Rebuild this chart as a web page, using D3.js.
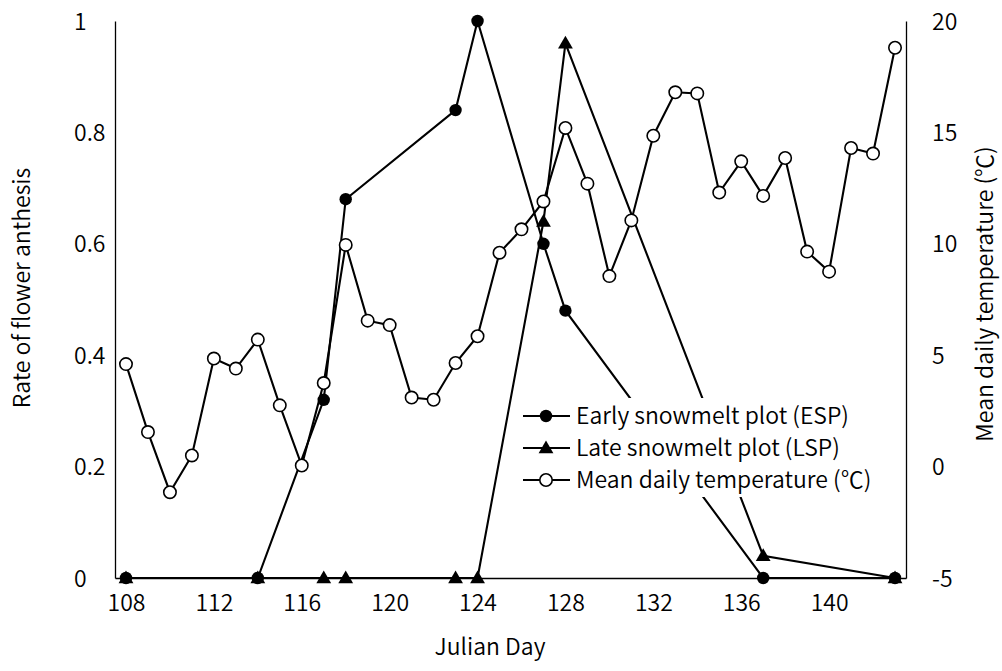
<!DOCTYPE html>
<html>
<head>
<meta charset="utf-8">
<script src="https://cdn.jsdelivr.net/npm/d3@7"></script>
<style>
  html, body { margin: 0; padding: 0; background: #fff; }
  svg { display: block; }
  text { font-family: "Noto Sans CJK KR", "Noto Sans", sans-serif; font-weight: 350; fill: #000; }
</style>
</head>
<body>
<svg id="chart" width="1002" height="671"></svg>
<script>
// Flowering days sampled in both plots
const anthesisDays = [108, 114, 117, 118, 123, 124, 127, 128, 137, 143];
// Rate of flower anthesis, early snowmelt plot (ESP)
const espRate = [0, 0, 0.32, 0.68, 0.84, 1.0, 0.60, 0.48, 0, 0];
// Rate of flower anthesis, late snowmelt plot (LSP)
const lspRate = [0, 0, 0, 0, 0, 0, 0.64, 0.96, 0.04, 0];

// Daily temperature record
const tempDays = [108, 109, 110, 111, 112, 113, 114, 115, 116, 117, 118, 119,
                  120, 121, 122, 123, 124, 125, 126, 127, 128, 129, 130, 131,
                  132, 133, 134, 135, 136, 137, 138, 139, 140, 141, 142, 143];
const meanTemp = [4.6, 1.55, -1.15, 0.5, 4.85, 4.4, 5.7, 2.75, 0.05, 3.75, 9.95, 6.55,
                  6.35, 3.1, 3.0, 4.65, 5.85, 9.6, 10.65, 11.9, 15.2, 12.7, 8.55, 11.05,
                  14.85, 16.8, 16.75, 12.3, 13.7, 12.15, 13.85, 9.65, 8.75, 14.3, 14.05, 18.8];

// Axis ticks
const xTicks = [108, 112, 116, 120, 124, 128, 132, 136, 140];
const leftTicks = [0, 0.2, 0.4, 0.6, 0.8, 1];
const leftTickLabels = ["0", "0.2", "0.4", "0.6", "0.8", "1"];
const rightTicks = [-5, 0, 5, 10, 15, 20];
const rightTickLabels = ["-5", "0", "5", "10", "15", "20"];

const legendLabels = ["Early snowmelt plot (ESP)", "Late snowmelt plot (LSP)", "Mean daily temperature (\u2103)"];

const FONT = 23;
const svg = d3.select("#chart");

const x = d3.scaleLinear().domain([107.5, 143.5]).range([115, 906]);
const yL = d3.scaleLinear().domain([0, 1]).range([578, 21]);
const yR = d3.scaleLinear().domain([-5, 20]).range([578, 21]);

// Axes
const gx = svg.append("g").attr("transform", "translate(0,578)")
  .call(d3.axisBottom(x).tickValues(xTicks).tickSize(0).tickFormat(d => d));
gx.selectAll("text").attr("y", 25).attr("dy", "0.35em").style("font-size", FONT + "px");

const gl = svg.append("g").attr("transform", "translate(115,0)")
  .call(d3.axisLeft(yL).tickValues(leftTicks).tickSize(0)
    .tickFormat((d, i) => leftTickLabels[i]));
gl.selectAll("text").attr("x", -41).attr("dy", "0.35em")
  .attr("text-anchor", "start").style("font-size", FONT + "px");

const gr = svg.append("g").attr("transform", "translate(906,0)")
  .call(d3.axisRight(yR).tickValues(rightTicks).tickSize(0)
    .tickFormat((d, i) => rightTickLabels[i]));
gr.selectAll("text").attr("x", 26).attr("dy", "0.35em")
  .attr("text-anchor", "start").style("font-size", FONT + "px");

svg.selectAll(".domain").attr("stroke", "#000").attr("stroke-width", 1.3);
svg.selectAll(".tick line").remove();
svg.selectAll("g").attr("font-family", null).attr("font-size", null);

// Axis titles
svg.append("text").attr("x", 490).attr("y", 647).attr("dy", "0.35em")
  .attr("text-anchor", "middle").style("font-size", FONT + "px").text("Julian Day");
svg.append("text").attr("transform", "translate(22,288) rotate(-90)").attr("dy", "0.35em")
  .attr("text-anchor", "middle").style("font-size", FONT + "px").text("Rate of flower anthesis");
svg.append("text").attr("transform", "translate(985,294) rotate(-90)").attr("dy", "0.35em")
  .attr("text-anchor", "middle").style("font-size", FONT + "px").text("Mean daily temperature (\u2103)");

// Series
const esp = anthesisDays.map((d, i) => ({ d, v: espRate[i] }));
const lsp = anthesisDays.map((d, i) => ({ d, v: lspRate[i] }));
const temp = tempDays.map((d, i) => ({ d, v: meanTemp[i] }));

const lineL = d3.line().x(p => x(p.d)).y(p => yL(p.v));
const lineR = d3.line().x(p => x(p.d)).y(p => yR(p.v));

const triangle = d3.symbol().type(d3.symbolTriangle).size(95);

svg.append("path").datum(esp).attr("d", lineL)
  .attr("fill", "none").attr("stroke", "#000").attr("stroke-width", 2.1);
svg.append("path").datum(lsp).attr("d", lineL)
  .attr("fill", "none").attr("stroke", "#000").attr("stroke-width", 2.1);

svg.append("g").selectAll("path").data(lsp).join("path")
  .attr("d", triangle)
  .attr("transform", p => `translate(${x(p.d)},${yL(p.v) + 1})`)
  .attr("fill", "#000");
svg.append("g").selectAll("circle").data(esp).join("circle")
  .attr("cx", p => x(p.d)).attr("cy", p => yL(p.v)).attr("r", 6.2)
  .attr("fill", "#000");

svg.append("path").datum(temp).attr("d", lineR)
  .attr("fill", "none").attr("stroke", "#000").attr("stroke-width", 2.1);
svg.append("g").selectAll("circle").data(temp).join("circle")
  .attr("cx", p => x(p.d)).attr("cy", p => yR(p.v)).attr("r", 6.2)
  .attr("fill", "#fff").attr("stroke", "#000").attr("stroke-width", 1.6);

// Legend
const legend = svg.append("g");
legend.append("rect").attr("x", 515).attr("y", 398).attr("width", 378).attr("height", 99)
  .attr("fill", "#fff");
const rowsY = [416, 448, 480];
legendLabels.forEach((label, i) => {
  const g = legend.append("g").attr("transform", `translate(0,${rowsY[i]})`);
  g.append("line").attr("x1", 523).attr("x2", 570).attr("y1", 0).attr("y2", 0)
    .attr("stroke", "#000").attr("stroke-width", 2.1);
  if (i === 0) {
    g.append("circle").attr("cx", 546).attr("cy", 0).attr("r", 6.2).attr("fill", "#000");
  } else if (i === 1) {
    g.append("path").attr("d", triangle).attr("transform", "translate(546,1)").attr("fill", "#000");
  } else {
    g.append("circle").attr("cx", 546).attr("cy", 0).attr("r", 6.2)
      .attr("fill", "#fff").attr("stroke", "#000").attr("stroke-width", 1.6);
  }
  g.append("text").attr("x", 576).attr("y", 0).attr("dy", "0.35em")
    .style("font-size", FONT + "px").text(label);
});
</script>
</body>
</html>
